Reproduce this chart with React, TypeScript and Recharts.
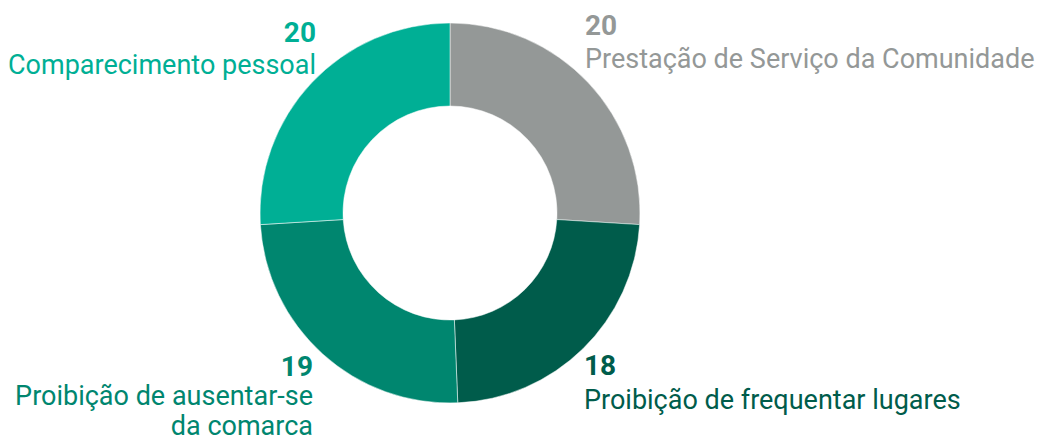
import React from "react";
import { PieChart, Pie, Cell } from "recharts";

// data
const categories = [
  "Prestação de Serviço da Comunidade",
  "Proibição de frequentar lugares",
  "Proibição de ausentar-se da comarca",
  "Comparecimento pessoal",
];
const values = [20, 18, 19, 20];
const labelLines = [
  ["Prestação de Serviço da Comunidade"],
  ["Proibição de frequentar lugares"],
  ["Proibição de ausentar-se", "da comarca"],
  ["Comparecimento pessoal"],
];
const colors = ["#949897", "#005c4b", "#00866f", "#00af95"];

const chartData = categories.map((name, i) => ({ name, value: values[i] }));

// where each label sits, relative to the pie centre
const labelLayout = [
  { dx: 135, numY: -178, textY: -145, anchor: "start" },
  { dx: 134, numY: 162, textY: 196, anchor: "start" },
  { dx: -137, numY: 163, textY: 192, anchor: "end" },
  { dx: -134, numY: -171, textY: -139, anchor: "end" },
];

const renderLabel = (props: any) => {
  const { cx, cy, index, value } = props;
  const l = labelLayout[index];
  const x = cx + l.dx;
  return (
    <g key={`lbl-${index}`}>
      <text
        x={x}
        y={cy + l.numY}
        textAnchor={l.anchor}
        fill={colors[index]}
        fontSize={28}
        fontWeight={700}
        fontFamily="Roboto"
      >
        {value}
      </text>
      {labelLines[index].map((line, j) => (
        <text
          key={j}
          x={x}
          y={cy + l.textY + j * 30}
          textAnchor={l.anchor}
          fill={colors[index]}
          fontSize={27}
          fontFamily="Roboto"
        >
          {line}
        </text>
      ))}
    </g>
  );
};

const App = () => {
  return (
    <div style={{ position: "absolute", left: 0, top: 0, background: "#fff" }}>
      <PieChart
        width={1045}
        height={443}
        margin={{ top: 0, right: 0, bottom: 0, left: 0 }}
      >
        <Pie
          data={chartData}
          dataKey="value"
          nameKey="name"
          cx={450}
          cy={213}
          innerRadius={107}
          outerRadius={190}
          startAngle={90}
          endAngle={-270}
          stroke="#fff"
          strokeWidth={0.5}
          label={renderLabel}
          labelLine={false}
          isAnimationActive={false}
        >
          {chartData.map((d, i) => (
            <Cell key={d.name} fill={colors[i]} />
          ))}
        </Pie>
      </PieChart>
    </div>
  );
};

export default App;
